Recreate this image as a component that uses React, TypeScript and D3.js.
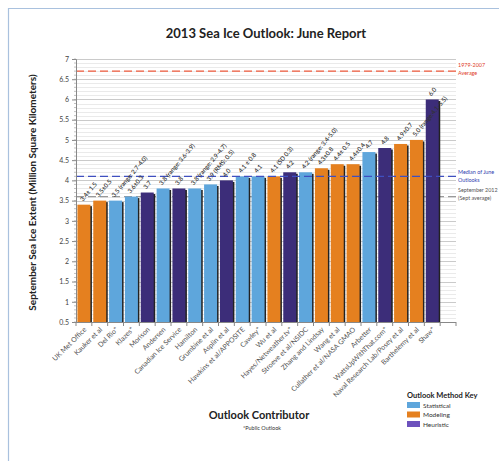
import { useEffect, useRef } from 'react';
import * as d3 from 'd3';

// Outlook contributors, in plotted order (last slot left empty as in the source).
const contributors = [
  'UK Met Office', 'Kauker et al', 'Del Rio*', 'Klazes*', 'Morison', 'Andersen',
  'Canadian Ice Service', 'Hamilton', 'Grumbine et al', 'Asplin et al',
  'Hawkins et al/APPOSITE', 'Cawley*', 'Wu et al', 'Hayes/Netweather.tv*',
  'Stroeve et al/NSIDC', 'Zhang and Lindsay', 'Wang et al', 'Cullather et al/NASA GMAO',
  'Arbetter', 'WattsUpWithThat.com*', 'Naval Research Lab/Posey et al',
  'Barthelemy et al', 'Shaw*', '',
];
const extents = [3.4, 3.5, 3.5, 3.6, 3.7, 3.8, 3.8, 3.8, 3.9, 4.0, 4.1, 4.1, 4.1, 4.2, 4.2, 4.3, 4.4, 4.4, 4.7, 4.8, 4.9, 5.0, 6.0];
const methods = ['M', 'M', 'S', 'S', 'H', 'S', 'H', 'S', 'S', 'H', 'S', 'S', 'M', 'H', 'S', 'M', 'M', 'M', 'S', 'H', 'M', 'M', 'H'];
const barLabels = [
  '3.4± 1.5', '3.5±0.5', '3.5 (range: 2.7-4.0)', '3.6±0.3', '3.7', '3.8 (range: 3.6-3.9)',
  '3.8', '3.8 (range: 2.9-4.7)', '3.9 (RMS: 0.5)', '4.0', '4.1 ± 0.8', '4.1', '4.1 (SD 0.3)',
  '4.2', '4.2 (range: 3.4-5.0)', '4.3±0.8', '4.4± 0.5', '4.4±0.4', '4.7', '4.8', '4.9±0.7',
  '5.0 (range:4.1-5.5)', '6.0',
];
const yTicks = [0.5, 1, 1.5, 2, 2.5, 3, 3.5, 4, 4.5, 5, 5.5, 6, 6.5, 7];
const legendKeys = ['S', 'M', 'H'];
const legendNames = ['Statistical', 'Modeling', 'Heuristic'];

const historicAvg = 6.7;
const juneMedian = 4.1;
const sept2012 = 3.6;

const barColor: Record<string, string> = { S: '#5ea6dc', M: '#e5801f', H: '#3c2d79' };
const keyColor: Record<string, string> = { S: '#5ea6dc', M: '#e5801f', H: '#6d52bd' };

export default function App() {
  const ref = useRef<SVGSVGElement | null>(null);

  useEffect(() => {
    const svg = d3.select(ref.current);
    svg.selectAll('*').remove();
    const width = 499;
    const height = 461;
    const font = 'Lato, "Open Sans", sans-serif';
    svg.attr('width', width).attr('height', height).style('font-family', font);

    svg.append('rect').attr('width', width).attr('height', height).attr('fill', '#fff');
    // page frame
    svg.append('path').attr('d', `M8.5,${height} V8.5 H${width}`).attr('fill', 'none').attr('stroke', '#a9c1de').attr('stroke-width', 1.2);

    const left = 76;
    const right = 456;
    const top = 59;
    const bottom = 322;

    const x = d3.scaleBand<string>().domain(contributors.map((c, i) => `${i}`)).range([left, right]).paddingInner(0.18).paddingOuter(0.09);
    const y = d3.scaleLinear().domain([0.5, 7]).range([bottom, top]);

    // grid: minor every 0.1, major every 0.5
    const minor = d3.range(5, 71).map((v) => v / 10);
    svg.append('g').selectAll('line').data(minor).join('line')
      .attr('x1', left).attr('x2', right)
      .attr('y1', (d) => Math.round(y(d)) + 0.5).attr('y2', (d) => Math.round(y(d)) + 0.5)
      .attr('stroke', (d) => (Math.abs(d * 2 - Math.round(d * 2)) < 1e-6 ? '#bdbdbd' : '#e4e4e4'))
      .attr('stroke-width', 0.8);

    // reference lines
    svg.append('line').attr('x1', left).attr('x2', right).attr('y1', y(historicAvg)).attr('y2', y(historicAvg))
      .attr('stroke', '#ee5a3c').attr('stroke-width', 1.4).attr('stroke-dasharray', '8,4');
    svg.append('line').attr('x1', left).attr('x2', right).attr('y1', y(sept2012)).attr('y2', y(sept2012))
      .attr('stroke', '#9a9a9a').attr('stroke-width', 1.2).attr('stroke-dasharray', '8,4');

    // bars with a dark shadow edge
    const data = extents.map((v, i) => ({ v, i, m: methods[i], label: barLabels[i] }));
    const bars = svg.append('g');
    bars.selectAll('rect.shadow').data(data).join('rect').attr('class', 'shadow')
      .attr('x', (d) => (x(`${d.i}`) ?? 0) + 1.5)
      .attr('y', (d) => y(d.v) + 1.5)
      .attr('width', x.bandwidth())
      .attr('height', (d) => bottom - y(d.v) - 1.5)
      .attr('fill', '#222');
    bars.selectAll('rect.bar').data(data).join('rect').attr('class', 'bar')
      .attr('x', (d) => x(`${d.i}`) ?? 0)
      .attr('y', (d) => y(d.v))
      .attr('width', x.bandwidth())
      .attr('height', (d) => bottom - y(d.v))
      .attr('fill', (d) => barColor[d.m]);

    // median line drawn over bars
    svg.append('line').attr('x1', left).attr('x2', right).attr('y1', y(juneMedian)).attr('y2', y(juneMedian))
      .attr('stroke', '#3f4fc0').attr('stroke-width', 1.3).attr('stroke-dasharray', '8,4');

    // bar value labels
    svg.append('g').selectAll('text').data(data).join('text')
      .attr('transform', (d) => `translate(${(x(`${d.i}`) ?? 0) + x.bandwidth() / 2 - 1},${y(d.v) - 3}) rotate(-50)`)
      .attr('font-size', 6.2).attr('font-weight', 600).attr('fill', '#333')
      .text((d) => d.label);

    // y axis
    const yAxis = d3.axisLeft(y).tickValues(yTicks).tickSize(4).tickFormat((d) => `${d}`);
    const ya = svg.append('g').attr('transform', `translate(${left},0)`).call(yAxis);
    ya.select('.domain').attr('stroke', '#888');
    ya.selectAll('.tick line').attr('stroke', '#888');
    ya.selectAll('.tick text').attr('font-size', 7).attr('fill', '#444').attr('font-family', font);
    svg.append('g').selectAll('line').data(minor).join('line')
      .attr('x1', left - 2).attr('x2', left)
      .attr('y1', (d) => y(d)).attr('y2', (d) => y(d))
      .attr('stroke', '#999').attr('stroke-width', 0.6);

    // x axis
    svg.append('line').attr('x1', left).attr('x2', right).attr('y1', bottom + 0.5).attr('y2', bottom + 0.5).attr('stroke', '#888');
    const step = x.step();
    svg.append('g').selectAll('line').data(d3.range(contributors.length + 1)).join('line')
      .attr('x1', (i) => left + i * step).attr('x2', (i) => left + i * step)
      .attr('y1', bottom).attr('y2', bottom + 4).attr('stroke', '#888');
    svg.append('g').selectAll('text').data(contributors).join('text')
      .attr('transform', (d, i) => `translate(${(x(`${i}`) ?? 0) + x.bandwidth() / 2 + 3},${bottom + 8}) rotate(-45)`)
      .attr('text-anchor', 'end').attr('font-size', 7).attr('fill', '#555')
      .text((d) => d);

    // titles
    svg.append('text').attr('x', 266).attr('y', 38).attr('text-anchor', 'middle')
      .attr('font-size', 13).attr('font-weight', 700).attr('fill', '#222').text('2013 Sea Ice Outlook: June Report');
    svg.append('text').attr('transform', `translate(36,${(top + bottom) / 2 + 2}) rotate(-90)`).attr('text-anchor', 'middle')
      .attr('font-size', 10).attr('font-weight', 700).attr('fill', '#222')
      .text('September Sea Ice Extent (Million Square Kilometers)');
    svg.append('text').attr('x', 259).attr('y', 419).attr('text-anchor', 'middle')
      .attr('font-size', 11).attr('font-weight', 700).attr('fill', '#222').text('Outlook Contributor');
    svg.append('text').attr('x', 262).attr('y', 430).attr('text-anchor', 'middle')
      .attr('font-size', 5.5).attr('fill', '#333').text('*Public Outlook');

    // right-hand annotations
    const note = (lines: string[], v: number, color: string, dy: number) => {
      lines.forEach((t, k) => {
        svg.append('text').attr('x', 458).attr('y', y(v) + dy + k * 8)
          .attr('font-size', 5.4).attr('fill', color).text(t);
      });
    };
    note(['1979-2007', 'Average'], historicAvg, '#e0402a', -4);
    note(['Median of June', 'Outlooks'], juneMedian, '#3240b0', -2);
    note(['September 2012', '(Sept average)'], sept2012, '#555', -5);

    // legend
    const lg = svg.append('g').attr('transform', 'translate(407,0)');
    lg.append('text').attr('x', 0).attr('y', 398).attr('font-size', 7.5).attr('font-weight', 700).attr('fill', '#222').text('Outlook Method Key');
    legendKeys.forEach((k, i) => {
      lg.append('rect').attr('x', 0).attr('y', 402 + i * 9.5).attr('width', 13).attr('height', 6).attr('fill', keyColor[k]);
      lg.append('text').attr('x', 16).attr('y', 407.5 + i * 9.5).attr('font-size', 6.5).attr('fill', '#333').text(legendNames[i]);
    });
  }, []);

  return <svg ref={ref} style={{ position: 'absolute', left: 0, top: 0 }} />;
}
